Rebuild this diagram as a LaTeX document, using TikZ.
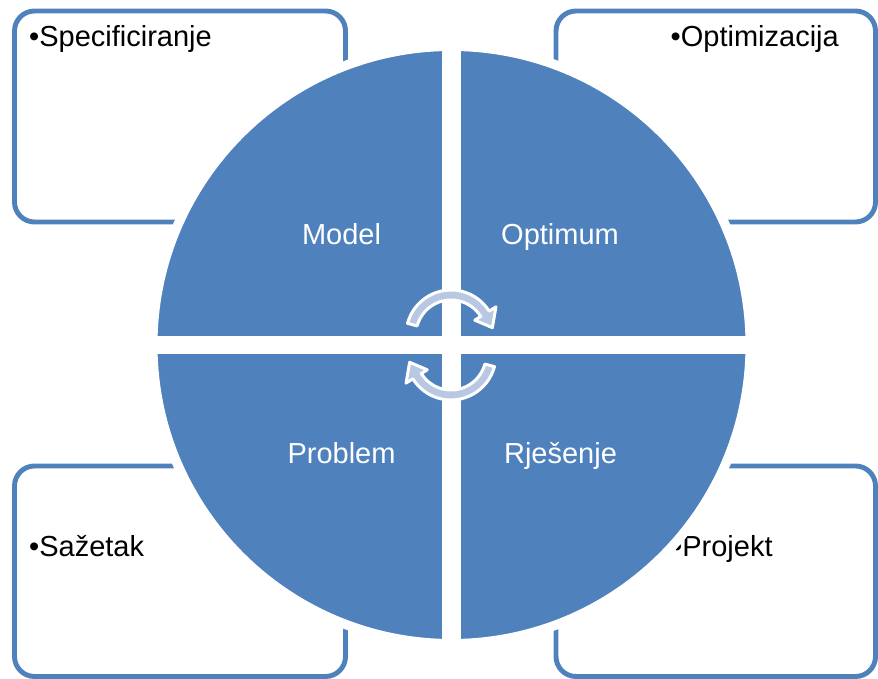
\documentclass[tikz,border=0pt]{standalone}
\usepackage{fontspec}
\setmainfont{Liberation Sans}
\definecolor{officeblue}{RGB}{79, 129, 189}
\definecolor{arrowfill}{RGB}{185, 200, 226}
\tikzset{
    textbox/.style={draw=officeblue, line width=1.4pt, rounded corners=0.2cm},
    itemtext/.style={anchor=base west, inner sep=0pt, font=\fontsize{8.25}{9.9}\selectfont},
    quadtext/.style={anchor=base, inner sep=0pt, text=white, font=\fontsize{8.25}{9.9}\selectfont},
    cyclearrow/.style={fill=arrowfill, draw=white, line width=0.85pt, line join=round}
}

\begin{document}
\begin{tikzpicture}
            \useasboundingbox (0,0) rectangle (8.78,6.79);
            % text boxes behind the circle
            \draw[textbox] (0.145, 4.57) rectangle (3.455, 6.68);
            \draw[textbox] (5.560, 4.57) rectangle (8.755, 6.68);
            \draw[textbox] (0.145, 0.025) rectangle (3.455, 2.13);
            \draw[textbox] (5.560, 0.025) rectangle (8.755, 2.13);
            \node[itemtext] (spec)  at (0.285, 6.32) {•Specificiranje};
            \node[itemtext] (optim) at (6.700, 6.32) {•Optimizacija};
            \node[itemtext] (sazet) at (0.285, 1.22) {•Sažetak};
            \node[itemtext] (proj)  at (6.715, 1.22) {•Projekt};
            % circle split in four
            \filldraw[fill=officeblue, draw=white, line width=0.095cm] (4.515, 3.34) circle (2.9875);
            \fill[white] (4.42, 0.30) rectangle (4.61, 6.38);
            \fill[white] (1.48, 3.25) rectangle (7.55, 3.43);
            \node[quadtext] (model)   at (3.415, 4.34) {Model};
            \node[quadtext] (optimum) at (5.600, 4.34) {Optimum};
            \node[quadtext] (problem) at (3.415, 2.15) {Problem};
            \node[quadtext] (rjesenje) at (5.605, 2.15) {Rješenje};
            % circular arrows in the middle
            \begin{scope}[shift={(4.51, 3.44)}]
                \filldraw[cyclearrow] (165:0.45) arc (165:32:0.45) -- (32:0.53) -- (10:0.42)
                    -- (32:0.28) -- (32:0.35) arc (32:165:0.35) -- cycle;
            \end{scope}
            \begin{scope}[shift={(4.51, 3.24)}, rotate=180]
                \filldraw[cyclearrow] (165:0.45) arc (165:32:0.45) -- (32:0.53) -- (10:0.42)
                    -- (32:0.28) -- (32:0.35) arc (32:165:0.35) -- cycle;
            \end{scope}
        \end{tikzpicture}
\end{document}
